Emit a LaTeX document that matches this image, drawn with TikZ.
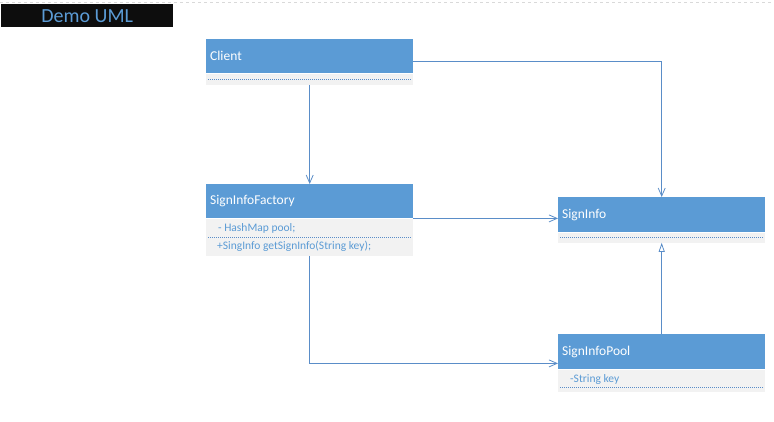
\documentclass[tikz,border=0pt]{standalone}
\usepackage{fontspec}
\setmainfont{Carlito}
\usetikzlibrary{positioning,arrows.meta}
\definecolor{umlblue}{HTML}{5B9BD5}
\definecolor{umlline}{HTML}{5A8DC8}
\definecolor{umlgray}{HTML}{F2F2F2}
\tikzset{
  head/.style={fill=umlblue, text=white, anchor=north west, inner sep=4pt,
    text width=199pt, minimum height=34pt, align=left,
    font=\fontsize{13.5}{15}\selectfont},
  body/.style={fill=umlgray, minimum width=207pt, inner sep=0pt, below=0pt of #1},
  member/.style={text=umlblue, anchor=west, inner sep=0pt, font=\fontsize{11.5}{13}\selectfont},
  sep/.style={umlline, line width=0.6pt, dash pattern=on 1pt off 1pt},
  link/.style={umlline, line width=0.8pt, -{Straight Barb[length=8pt,width=7pt]}},
  inherit/.style={umlline, line width=0.8pt, -{Triangle[open,length=9pt,width=6pt,fill=white]}},
}
\begin{document}
\begin{tikzpicture}[x=1pt,y=-1pt]
\useasboundingbox (0,0) rectangle (774,421);
\draw[gray!30, dashed] (0,2) -- (774,2);
\node[fill=black!95, text=umlblue, minimum width=172pt, minimum height=23pt,
  anchor=north west, inner sep=0pt, font=\fontsize{20}{22}\selectfont] (title) at (1,4) {Demo UML};

% classes
\node[head] (client) at (206,39) {Client};
\node[body=client, minimum height=11pt] (clientb) {};
\draw[sep] ([xshift=2pt]clientb.west) -- ([xshift=-2pt]clientb.east);

\node[head] (factory) at (206,184) {SignInfoFactory};
\node[body=factory, minimum height=37pt] (factoryb) {};
\node[member] (fpool) at (218,228) {- HashMap pool;};
\node[member] (fget) at (217,246.5) {+SingInfo getSignInfo(String key);};
\draw[sep] ([xshift=2pt]factoryb.west) -- ([xshift=-2pt]factoryb.east);

\node[head, minimum height=35pt] (info) at (558,197) {SignInfo};
\node[body=info, minimum height=10pt] (infob) {};
\draw[sep] ([xshift=2pt]infob.west) -- ([xshift=-2pt]infob.east);

\node[head, minimum height=35pt] (pool) at (558,334) {SignInfoPool};
\node[body=pool, minimum height=22pt] (poolb) {};
\node[member] (pkey) at (570,379) {-String key};
\draw[sep] ([shift={(2pt,4.5pt)}]poolb.south west) -- ([shift={(-2pt,4.5pt)}]poolb.south east);

% relations
\draw[link] (clientb.south) -- (factory.north);
\draw[link] ([yshift=-5pt]client.east) -| (info.north);
\draw[link] (factory.south east) -- (info.west |- factory.south east);
\draw[link] (factoryb.south) |- ([yshift=6pt]pool.south west);
\draw[inherit] (pool.north) -- (infob.south);
\end{tikzpicture}
\end{document}
